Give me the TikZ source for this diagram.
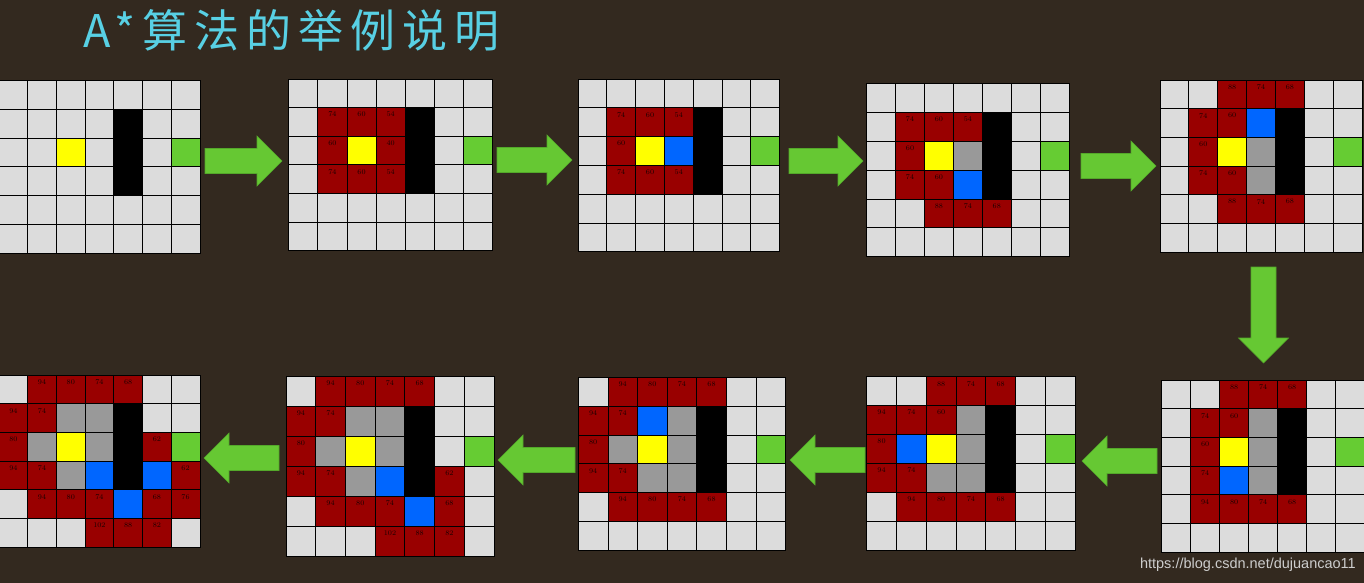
\documentclass[tikz,border=0pt]{standalone}
\usepackage{fontspec}
\setsansfont{Liberation Sans}
\newfontfamily\cjk{Noto Sans CJK SC}
\usetikzlibrary{positioning}

\definecolor{bgbrown}{RGB}{51,41,31}
\definecolor{titlecyan}{RGB}{88,208,228}
\definecolor{freecell}{RGB}{220,220,220}
\definecolor{openred}{RGB}{153,0,0}
\definecolor{closedgray}{RGB}{153,153,153}
\definecolor{curblue}{RGB}{0,102,255}
\definecolor{startyellow}{RGB}{255,255,0}
\definecolor{goalgreen}{RGB}{102,204,51}
\definecolor{arrowgreen}{RGB}{102,200,51}
\definecolor{arrowedge}{RGB}{84,168,42}
\definecolor{numtext}{RGB}{25,0,0}
\definecolor{urlgray}{RGB}{205,205,205}

\newcommand\titlegap{\hspace{7pt}}

\newcommand\astargrid[6]{%
  \foreach \cx in {0,...,6}
    \foreach \ry in {0,...,5}
      \node[cell, minimum width=#4pt, minimum height=#5pt] (#1-\cx-\ry)
        at ({#2+(\cx+0.5)*#4},{#3+(\ry+0.5)*#5}) {};
  \foreach \cx/\ry/\kind in {4/1/wall,4/2/wall,4/3/wall,2/2/start,6/2/goal}
    \node[cell, \kind, minimum width=#4pt, minimum height=#5pt] (#1f-\cx-\ry) at (#1-\cx-\ry) {};
  \if\relax\detokenize{#6}\relax\else
  \foreach \cx/\ry/\kind/\lab in {#6} {
    \node[cell, \kind, minimum width=#4pt, minimum height=#5pt] (#1s-\cx-\ry) at (#1-\cx-\ry) {};
    \node[num] (#1n-\cx-\ry) at ([yshift=-7pt]#1s-\cx-\ry.north) {\lab};
  }
  \fi
}

\begin{document}
\begin{tikzpicture}[
  x=1pt, y=-1pt,
  cell/.style={draw=black, line width=0.8pt, fill=freecell, inner sep=0pt, outer sep=0pt},
  wall/.style={fill=black},
  start/.style={fill=startyellow},
  goal/.style={fill=goalgreen},
  open/.style={fill=openred},
  closed/.style={fill=closedgray},
  cur/.style={fill=curblue},
  num/.style={inner sep=0pt, text=numtext, font=\fontsize{7.2}{8}\selectfont},
  pics/blockarrow/.style={code={
    \path[fill=arrowgreen, draw=arrowedge, line width=0.6pt]
      (0,-12.5) -- ({#1-25},-12.5) -- ({#1-25},-25) -- (#1,0)
      -- ({#1-25},25) -- ({#1-25},12.5) -- (0,12.5) -- cycle;
  }}
]
\useasboundingbox (0,0) rectangle (1364,583);
\fill[bgbrown] (0,0) rectangle (1364,583);

\node[inner sep=0pt, anchor=west, text=titlecyan, font=\cjk\fontsize{45}{48}\selectfont] (title) at (83,30)
  {A\hspace{4pt}*\titlegap 算\titlegap 法\titlegap 的\titlegap 举\titlegap 例\titlegap 说\titlegap 明};

\astargrid{ga}{-1.4}{80.3}{28.77}{28.8}{}
\astargrid{gb}{288.7}{79}{29.14}{28.6}{1/1/open/74,2/1/open/60,3/1/open/54,1/2/open/60,3/2/open/40,1/3/open/74,2/3/open/60,3/3/open/54}
\astargrid{gc}{578}{79}{28.8}{28.8}{1/1/open/74,2/1/open/60,3/1/open/54,1/2/open/60,3/2/cur/,1/3/open/74,2/3/open/60,3/3/open/54}
\astargrid{gd}{866.7}{83.3}{28.9}{28.9}{1/1/open/74,2/1/open/60,3/1/open/54,1/2/open/60,3/2/closed/,1/3/open/74,2/3/open/60,3/3/cur/,2/4/open/88,3/4/open/74,4/4/open/68}
\astargrid{ge}{1160}{80}{28.86}{28.67}{2/0/open/88,3/0/open/74,4/0/open/68,1/1/open/74,2/1/open/60,3/1/cur/,1/2/open/60,3/2/closed/,1/3/open/74,2/3/open/60,3/3/closed/,2/4/open/88,3/4/open/74,4/4/open/68}
\astargrid{gf}{1161.7}{380}{29.0}{28.7}{2/0/open/88,3/0/open/74,4/0/open/68,1/1/open/74,2/1/open/60,3/1/closed/,1/2/open/60,3/2/closed/,1/3/open/74,2/3/cur/,3/3/closed/,1/4/open/94,2/4/open/80,3/4/open/74,4/4/open/68}
\astargrid{gg}{866.7}{376.7}{29.76}{28.9}{2/0/open/88,3/0/open/74,4/0/open/68,0/1/open/94,1/1/open/74,2/1/open/60,3/1/closed/,0/2/open/80,1/2/cur/,3/2/closed/,0/3/open/94,1/3/open/74,2/3/closed/,3/3/closed/,1/4/open/94,2/4/open/80,3/4/open/74,4/4/open/68}
\astargrid{gh}{578.3}{377.3}{29.6}{28.8}{1/0/open/94,2/0/open/80,3/0/open/74,4/0/open/68,0/1/open/94,1/1/open/74,2/1/cur/,3/1/closed/,0/2/open/80,1/2/closed/,3/2/closed/,0/3/open/94,1/3/open/74,2/3/closed/,3/3/closed/,1/4/open/94,2/4/open/80,3/4/open/74,4/4/open/68}
\astargrid{gi}{286}{376}{29.7}{30}{1/0/open/94,2/0/open/80,3/0/open/74,4/0/open/68,0/1/open/94,1/1/open/74,2/1/closed/,3/1/closed/,0/2/open/80,1/2/closed/,3/2/closed/,0/3/open/94,1/3/open/74,2/3/closed/,3/3/cur/,5/3/open/62,1/4/open/94,2/4/open/80,3/4/open/74,4/4/cur/,5/4/open/68,3/5/open/102,4/5/open/88,5/5/open/82}
\astargrid{gj}{-1}{375}{28.7}{28.7}{1/0/open/94,2/0/open/80,3/0/open/74,4/0/open/68,0/1/open/94,1/1/open/74,2/1/closed/,3/1/closed/,0/2/open/80,1/2/closed/,3/2/closed/,5/2/open/62,0/3/open/94,1/3/open/74,2/3/closed/,3/3/cur/,5/3/cur/,6/3/open/62,1/4/open/94,2/4/open/80,3/4/open/74,4/4/cur/,5/4/open/68,6/4/open/76,3/5/open/102,4/5/open/88,5/5/open/82}

\pic at (205,161) {blockarrow=77};
\pic at (497,160) {blockarrow=75};
\pic at (789,161) {blockarrow=74};
\pic at (1081,166) {blockarrow=75};
\pic[rotate=-90] at (1263.5,267) {blockarrow=96};
\pic[rotate=180] at (1157,461) {blockarrow=75};
\pic[rotate=180] at (865,460) {blockarrow=75};
\pic[rotate=180] at (575,460) {blockarrow=77};
\pic[rotate=180] at (279,458) {blockarrow=75};

\node[inner sep=0pt, anchor=base east, text=urlgray, font=\sffamily\fontsize{14.5}{16}\selectfont] (url) at (1356,568)
  {https://blog.csdn.net/dujuancao11};
\end{tikzpicture}
\end{document}
